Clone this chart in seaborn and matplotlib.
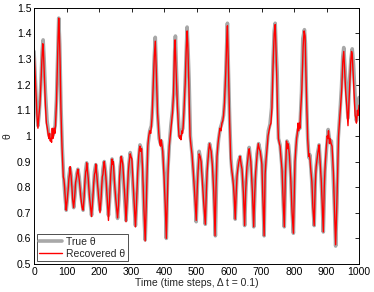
import numpy as np
import pandas as pd
import matplotlib
matplotlib.use("Agg")
import matplotlib.pyplot as plt
import seaborn as sns

# ---------------- data ----------------
t_true = [0, 4, 8, 12, 16, 21, 25, 28, 31, 35, 40, 45, 50, 55, 60, 65, 69, 73, 76, 79,
          83, 87, 91, 95, 99, 103, 107, 111, 115, 119, 122, 126, 131, 135, 139, 144, 151,
          155, 159, 162, 166, 171, 177, 181, 186, 190, 194, 198, 203, 207, 212, 216, 220,
          224, 229, 233, 237, 240, 244, 249, 257, 261, 265, 269, 273, 278, 283, 287, 292,
          296, 300, 305, 312, 316, 321, 326, 330, 334, 338, 342, 345, 348, 351, 356, 361,
          365, 369, 373, 376, 380, 385, 389, 392, 396, 401, 404, 407, 411, 416, 421, 426,
          430, 433, 435, 438, 442, 447, 450, 455, 458, 461, 465, 468, 471, 474, 477, 481,
          486, 491, 495, 499, 504, 508, 514, 519, 523, 527, 532, 537, 540, 545, 549, 553,
          558, 563, 568, 573, 578, 583, 586, 590, 595, 598, 602, 606, 609, 614, 619, 624,
          629, 634, 639, 644, 648, 652, 658, 662, 667, 672, 676, 681, 686, 691, 696, 701,
          705, 708, 711, 716, 721, 726, 731, 736, 739, 742, 745, 748, 752, 757, 762, 767,
          770, 774, 778, 783, 786, 790, 794, 798, 803, 808, 813, 818, 823, 827, 832, 835,
          839, 842, 846, 849, 854, 858, 862, 866, 872, 877, 882, 887, 890, 895, 900, 905,
          910, 915, 920, 924, 928, 932, 936, 941, 946, 950, 953, 957, 962, 966, 971, 975,
          979, 983, 988, 992, 996, 1000]
theta_true = [1.33, 1.22, 1.10, 1.04, 1.09, 1.20, 1.33, 1.375, 1.30, 1.17, 1.06, 1.01,
              0.99, 0.995, 1.01, 1.04, 1.14, 1.33, 1.46, 1.36, 1.11, 0.95, 0.84, 0.77,
              0.71, 0.76, 0.84, 0.875, 0.84, 0.76, 0.72, 0.77, 0.85, 0.87, 0.84, 0.77,
              0.71, 0.78, 0.87, 0.895, 0.85, 0.76, 0.69, 0.76, 0.86, 0.888, 0.85, 0.77,
              0.71, 0.77, 0.87, 0.90, 0.86, 0.77, 0.69, 0.76, 0.87, 0.91, 0.88, 0.79,
              0.678, 0.75, 0.88, 0.918, 0.88, 0.77, 0.67, 0.76, 0.89, 0.935, 0.90, 0.79,
              0.65, 0.75, 0.90, 0.965, 0.95, 0.86, 0.70, 0.594, 0.72, 0.88, 0.97, 1.02,
              1.04, 1.12, 1.28, 1.385, 1.27, 1.09, 0.99, 0.97, 0.98, 0.94, 0.84, 0.73,
              0.60, 0.85, 0.96, 1.04, 1.10, 1.17, 1.34, 1.39, 1.26, 1.12, 1.00, 0.997,
              1.02, 1.03, 1.09, 1.21, 1.32, 1.425, 1.33, 1.22, 1.00, 0.93, 0.84, 0.76,
              0.665, 0.86, 0.94, 0.90, 0.82, 0.73, 0.655, 0.86, 0.94, 0.97, 0.94, 0.89,
              0.78, 0.61, 0.92, 0.99, 1.03, 1.05, 1.08, 1.13, 1.25, 1.44, 1.26, 1.06,
              0.91, 0.86, 0.81, 0.675, 0.84, 0.90, 0.92, 0.88, 0.78, 0.65, 0.80, 0.915,
              0.955, 0.90, 0.78, 0.645, 0.83, 0.93, 0.97, 0.94, 0.90, 0.74, 0.61, 0.86,
              0.95, 1.02, 1.045, 1.11, 1.31, 1.41, 1.44, 1.33, 1.25, 0.99, 0.965, 0.89,
              0.73, 0.645, 0.86, 0.98, 0.965, 0.926, 0.835, 0.704, 0.62, 0.90, 0.99,
              1.025, 1.03, 1.17, 1.38, 1.415, 1.36, 1.12, 0.99, 0.915, 0.926, 0.835, 0.73,
              0.65, 0.85, 0.93, 0.965, 0.87, 0.73, 0.625, 0.86, 0.95, 1.025, 0.98, 0.98,
              0.86, 0.73, 0.57, 0.73, 0.99, 1.085, 1.19, 1.31, 1.345, 1.26, 1.15, 1.07,
              1.22, 1.30, 1.34, 1.28, 1.15, 1.06, 1.12, 1.15]

t_rec = [0, 3, 6, 9, 12, 15, 18, 21, 24, 27, 29, 32, 35, 38, 41, 44, 46, 48, 50, 52, 54,
         56, 58, 60, 62, 64, 66, 69, 72, 74, 76, 78, 80, 83, 86, 88, 90, 92, 94, 97, 99,
         102, 105, 107, 109, 111, 113, 116, 119, 122, 125, 128, 131, 133, 135, 137, 140,
         144, 148, 151, 154, 157, 159, 161, 162, 164, 167, 170, 174, 177, 180, 184, 186,
         188, 190, 192, 195, 199, 203, 206, 210, 212, 214, 216, 218, 221, 225, 229, 232,
         236, 238, 240, 242, 244, 247, 251, 257, 260, 263, 266, 268, 270, 273, 276, 280,
         283, 286, 290, 293, 296, 298, 301, 304, 308, 312, 315, 319, 322, 324, 326, 328,
         331, 334, 338, 342, 345, 348, 350, 353, 356, 359, 361, 363, 366, 370, 373, 376,
         380, 384, 387, 389, 391, 393, 396, 400, 404, 407, 410, 413, 416, 419, 422, 426,
         429, 432, 434, 437, 441, 444, 446, 448, 450, 452, 455, 457, 459, 461, 465, 468,
         471, 473, 476, 480, 483, 486, 490, 494, 499, 502, 505, 508, 511, 514, 518, 522,
         527, 530, 533, 536, 538, 540, 543, 545, 549, 553, 557, 560, 563, 566, 569, 572,
         575, 578, 581, 583, 586, 590, 593, 595, 597, 599, 602, 605, 608, 611, 614, 616,
         619, 622, 625, 629, 632, 634, 637, 640, 644, 648, 651, 655, 658, 660, 662, 664,
         667, 672, 676, 679, 682, 686, 688, 690, 693, 696, 699, 701, 704, 708, 711, 714,
         717, 720, 723, 726, 729, 732, 736, 739, 742, 744, 747, 750, 752, 755, 757, 760,
         763, 767, 770, 773, 775, 777, 779, 781, 783, 786, 790, 794, 798, 801, 803, 806,
         808, 810, 812, 814, 816, 818, 820, 824, 828, 831, 834, 837, 840, 842, 845, 847,
         849, 852, 855, 858, 862, 865, 868, 871, 874, 877, 880, 884, 887, 890, 893, 896,
         899, 902, 904, 906, 909, 911, 914, 917, 921, 924, 928, 931, 934, 937, 941, 944,
         947, 950, 953, 956, 959, 962, 964, 966, 968, 971, 974, 977, 979, 982, 985, 988,
         990, 992, 995, 997, 1000]
theta_rec = [1.34, 1.25, 1.15, 1.08, 1.03, 1.08, 1.12, 1.20, 1.29, 1.36, 1.33, 1.22,
             1.12, 1.05, 1.03, 1.00, 0.99, 1.01, 0.98, 0.99, 0.975, 1.03, 0.99, 1.00,
             1.03, 1.01, 1.04, 1.13, 1.28, 1.38, 1.46, 1.40, 1.30, 1.09, 0.96, 0.90,
             0.84, 0.83, 0.80, 0.74, 0.71, 0.75, 0.79, 0.83, 0.85, 0.88, 0.86, 0.81,
             0.75, 0.72, 0.76, 0.82, 0.84, 0.86, 0.87, 0.85, 0.82, 0.76, 0.72, 0.71,
             0.76, 0.83, 0.86, 0.87, 0.895, 0.87, 0.83, 0.77, 0.72, 0.685, 0.74, 0.82,
             0.85, 0.86, 0.89, 0.86, 0.82, 0.75, 0.70, 0.75, 0.84, 0.85, 0.88, 0.90,
             0.88, 0.84, 0.76, 0.67, 0.74, 0.85, 0.88, 0.91, 0.89, 0.90, 0.83, 0.76,
             0.68, 0.73, 0.84, 0.89, 0.92, 0.91, 0.89, 0.83, 0.75, 0.665, 0.74, 0.86,
             0.90, 0.93, 0.92, 0.91, 0.84, 0.74, 0.645, 0.73, 0.86, 0.92, 0.95, 0.96,
             0.94, 0.95, 0.87, 0.72, 0.59, 0.72, 0.87, 0.96, 1.00, 1.02, 1.01, 1.04,
             1.07, 1.17, 1.31, 1.37, 1.26, 1.09, 1.01, 0.97, 0.96, 0.985, 0.97, 0.94,
             0.84, 0.72, 0.60, 0.75, 0.88, 0.96, 1.00, 1.04, 1.09, 1.16, 1.33, 1.375,
             1.26, 1.12, 1.04, 1.00, 0.99, 1.00, 0.985, 1.02, 1.01, 1.04, 1.09, 1.20,
             1.33, 1.41, 1.36, 1.22, 1.00, 0.96, 0.93, 0.86, 0.78, 0.67, 0.79, 0.87,
             0.93, 0.92, 0.90, 0.82, 0.74, 0.655, 0.78, 0.87, 0.92, 0.95, 0.97, 0.95,
             0.94, 0.88, 0.78, 0.61, 0.80, 0.92, 0.97, 1.00, 1.03, 1.02, 1.05, 1.06,
             1.08, 1.13, 1.25, 1.38, 1.43, 1.33, 1.22, 1.05, 0.91, 0.87, 0.84, 0.80,
             0.76, 0.675, 0.78, 0.85, 0.89, 0.91, 0.92, 0.89, 0.87, 0.78, 0.65, 0.78,
             0.88, 0.91, 0.94, 0.95, 0.93, 0.90, 0.78, 0.645, 0.77, 0.86, 0.92, 0.95,
             0.97, 0.95, 0.94, 0.91, 0.89, 0.76, 0.61, 0.85, 0.91, 0.95, 1.00, 1.02,
             1.04, 1.05, 1.11, 1.30, 1.40, 1.435, 1.36, 1.22, 1.05, 0.99, 0.97, 0.96,
             0.91, 0.87, 0.73, 0.645, 0.83, 0.91, 0.98, 0.95, 0.97, 0.96, 0.92, 0.83,
             0.70, 0.62, 0.80, 0.90, 0.96, 0.99, 1.01, 1.05, 1.02, 1.05, 1.03, 1.09,
             1.18, 1.35, 1.41, 1.39, 1.22, 1.09, 0.99, 0.92, 0.93, 0.91, 0.86, 0.82,
             0.72, 0.65, 0.80, 0.88, 0.91, 0.94, 0.965, 0.90, 0.82, 0.72, 0.625, 0.80,
             0.89, 0.95, 1.00, 0.99, 1.02, 0.97, 0.99, 0.97, 0.96, 0.86, 0.73, 0.575,
             0.70, 0.85, 1.00, 1.08, 1.13, 1.19, 1.29, 1.33, 1.25, 1.17, 1.12, 1.08,
             1.04, 1.10, 1.20, 1.28, 1.33, 1.32, 1.24, 1.16, 1.08, 1.07, 1.05, 1.10,
             1.08, 1.12]

x_ticks = [0, 100, 200, 300, 400, 500, 600, 700, 800, 900, 1000]
y_ticks = [0.5, 0.6, 0.7, 0.8, 0.9, 1.0, 1.1, 1.2, 1.3, 1.4, 1.5]
y_tick_labels = ["0.5", "0.6", "0.7", "0.8", "0.9", "1", "1.1", "1.2", "1.3", "1.4", "1.5"]

df_true = pd.DataFrame({"t": t_true, "theta": theta_true})
df_rec = pd.DataFrame({"t": t_rec, "theta": theta_rec})

# ---------------- plotting ----------------
sns.set_theme(style="white")
plt.rcParams["font.family"] = ["Liberation Sans", "DejaVu Sans"]

fig = plt.figure(figsize=(3.74, 2.92), dpi=100)
ax = fig.add_axes([0.091, 0.096, 0.869, 0.877])

sns.lineplot(data=df_true, x="t", y="theta", ax=ax, color="#a8a8a8", linewidth=2.6,
             label="True θ", sort=True, estimator=None)
sns.lineplot(data=df_rec, x="t", y="theta", ax=ax, color="#ff0000", linewidth=1.0,
             label="Recovered θ", sort=True, estimator=None)

ax.set_xlim(0, 1000)
ax.set_ylim(0.5, 1.5)
ax.set_xticks(x_ticks)
ax.set_yticks(y_ticks)
ax.set_yticklabels(y_tick_labels)
ax.tick_params(direction="in", length=3, width=0.6, top=True, right=True,
               labelsize=7.5, pad=2, colors="black")
for s in ax.spines.values():
    s.set_color("black")
    s.set_linewidth(0.7)

ax.set_xlabel("Time (time steps, Δ t = 0.1)", fontsize=7.5, labelpad=1)
ax.set_ylabel("θ", fontsize=7.5, labelpad=3)

leg = ax.legend(loc="lower left", fontsize=7.5, frameon=True, fancybox=False,
                borderpad=0.25, handlelength=2.2, handletextpad=0.4, labelspacing=0.2,
                borderaxespad=0.25)
leg.get_frame().set_edgecolor("black")
leg.get_frame().set_linewidth(0.6)

fig.savefig("out.png", dpi=100)
